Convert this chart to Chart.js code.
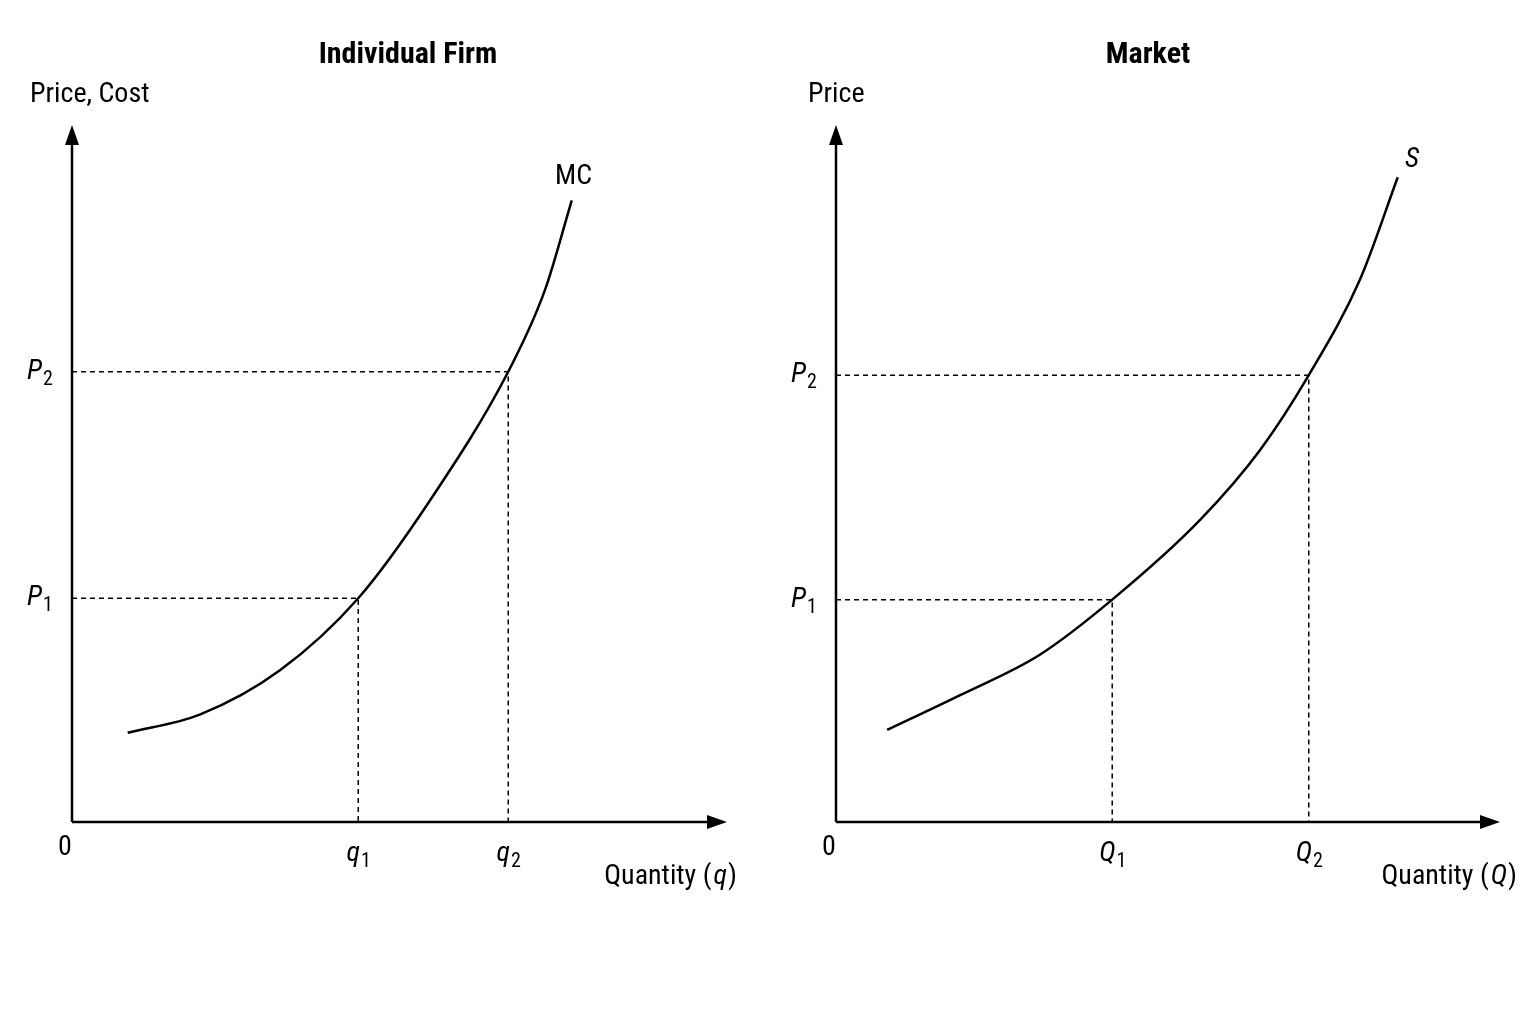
<!DOCTYPE html>
<html><head><meta charset="utf-8">
<script src="https://cdn.jsdelivr.net/npm/chart.js@4/dist/chart.umd.min.js"></script>
<style>
html,body{margin:0;padding:0;background:#fff;width:1536px;height:1024px;overflow:hidden}
.c{position:absolute;top:0;width:768px;height:1024px}
</style></head><body>
<div class="c" style="left:0"><canvas id="firm"></canvas></div>
<div class="c" style="left:768px"><canvas id="market"></canvas></div>
<script>
// Data (axis units 0..10)
const mcX = [0.85, 1.95, 3.18, 4.37, 5.47, 6.66, 7.22, 7.63];
const mcY = [1.28, 1.54, 2.18, 3.21, 4.62, 6.46, 7.63, 8.92];
const firmQ = [4.37, 6.66];
const firmP = [3.21, 6.46];
const sX = [0.77, 1.87, 3.07, 4.16, 5.48, 6.39, 7.12, 7.89, 8.46];
const sY = [1.32, 1.82, 2.40, 3.19, 4.33, 5.34, 6.41, 7.78, 9.25];
const mktQ = [4.16, 7.12];
const mktP = [3.19, 6.41];

const FONT = '"Liberation Sans Narrow","Arial Narrow","Roboto Condensed","Liberation Sans",sans-serif';

function pts(xs, ys){ return xs.map((x,i)=>({x, y: ys[i]})); }
function dashSets(qs, ps){
  const out = [];
  qs.forEach((q,i)=>{
    out.push({data:[{x:0,y:ps[i]},{x:q,y:ps[i]},{x:q,y:0}], borderColor:'#000', borderWidth:1.5, borderDash:[5,4], pointRadius:0, showLine:true, tension:0});
  });
  return out;
}
function sub(ctx, base, s, x, y, align, italicBase){
  ctx.font = (italicBase?'italic ':'') + '28px ' + FONT;
  const bw = ctx.measureText(base).width;
  ctx.font = '20px ' + FONT;
  const sw = ctx.measureText(s).width;
  let x0 = align==='center' ? x - (bw+sw)/2 : align==='right' ? x - bw - sw : x;
  ctx.textAlign='left'; ctx.textBaseline='middle';
  ctx.font = (italicBase?'italic ':'') + '28px ' + FONT;
  ctx.fillText(base, x0, y);
  ctx.font = '20px ' + FONT;
  ctx.fillText(s, x0+bw+1, y+8);
}

function makeChart(id, cx, cy, qs, ps, opts){
  const decor = {
    id:'decor',
    afterDraw(chart){
      const ctx = chart.ctx, a = chart.chartArea;
      const xs = chart.scales.x, ys = chart.scales.y;
      ctx.save();
      ctx.strokeStyle='#000'; ctx.fillStyle='#000'; ctx.lineWidth=2.5;
      ctx.beginPath(); ctx.moveTo(a.left, a.bottom); ctx.lineTo(a.left, a.top+10);
      ctx.moveTo(a.left, a.bottom); ctx.lineTo(a.right-10, a.bottom); ctx.stroke();
      ctx.beginPath(); ctx.moveTo(a.left, a.top); ctx.lineTo(a.left-7, a.top+20); ctx.lineTo(a.left+7, a.top+20); ctx.closePath(); ctx.fill();
      ctx.beginPath(); ctx.moveTo(a.right, a.bottom); ctx.lineTo(a.right-20, a.bottom-7); ctx.lineTo(a.right-20, a.bottom+7); ctx.closePath(); ctx.fill();
      // title
      ctx.textAlign='center'; ctx.textBaseline='middle';
      ctx.font='bold 30px '+FONT; ctx.fillText(opts.title, opts.titleX, 55);
      ctx.font='28px '+FONT; ctx.textAlign='left';
      ctx.fillText(opts.yLabel, opts.yLabelX, 95);
      ctx.fillText('0', a.left-14, a.bottom+26);
      ctx.textAlign='right';
      ctx.font='28px '+FONT;
      const xl = opts.xLabel;
      ctx.font='italic 28px '+FONT;
      const wv = ctx.measureText(xl[1]).width;
      ctx.font='28px '+FONT;
      const wc = ctx.measureText(')').width;
      ctx.fillText(')', opts.xLabelRight, a.bottom+55);
      ctx.font='italic 28px '+FONT;
      ctx.fillText(xl[1], opts.xLabelRight-wc-1, a.bottom+55);
      ctx.font='28px '+FONT;
      ctx.fillText(xl[0], opts.xLabelRight-wc-wv-3, a.bottom+55);
      ps.forEach((p,i)=>{ sub(ctx,'P',String(i+1), a.left-45, ys.getPixelForValue(p), 'left', true); });
      qs.forEach((q,i)=>{ sub(ctx, opts.qSym, String(i+1), xs.getPixelForValue(q), a.bottom+32, 'center', true); });
      ctx.font=(opts.curveItalic?'italic ':'')+'28px '+FONT; ctx.textAlign='left';
      ctx.fillText(opts.curve, opts.curveX, opts.curveY);
      ctx.restore();
    }
  };
  return new Chart(document.getElementById(id), {
    type:'scatter',
    data:{datasets:[{data:pts(cx,cy), borderColor:'#000', borderWidth:2.5, pointRadius:0, showLine:true, cubicInterpolationMode:'monotone'}, ...dashSets(qs,ps)]},
    options:{responsive:false, animation:false, devicePixelRatio:1,
      layout:{padding:opts.pad},
      plugins:{legend:{display:false}, tooltip:{enabled:false}},
      scales:{x:{display:false,min:0,max:10}, y:{display:false,min:0,max:10}}},
    plugins:[decor]
  });
}
for (const id of ['firm','market']){ const c=document.getElementById(id); c.width=768; c.height=1024; }
makeChart('firm', mcX, mcY, firmQ, firmP, {pad:{left:72,right:41,top:125,bottom:202}, title:'Individual Firm', titleX:408, yLabel:'Price, Cost', yLabelX:30, xLabel:['Quantity (','q'], xLabelRight:737, qSym:'q', curve:'MC', curveX:555, curveY:177, curveItalic:false});
makeChart('market', sX, sY, mktQ, mktP, {pad:{left:68,right:36,top:125,bottom:202}, title:'Market', titleX:380, yLabel:'Price', yLabelX:40, xLabel:['Quantity (','Q'], xLabelRight:749, qSym:'Q', curve:'S', curveX:637, curveY:160, curveItalic:true});
</script></body></html>
